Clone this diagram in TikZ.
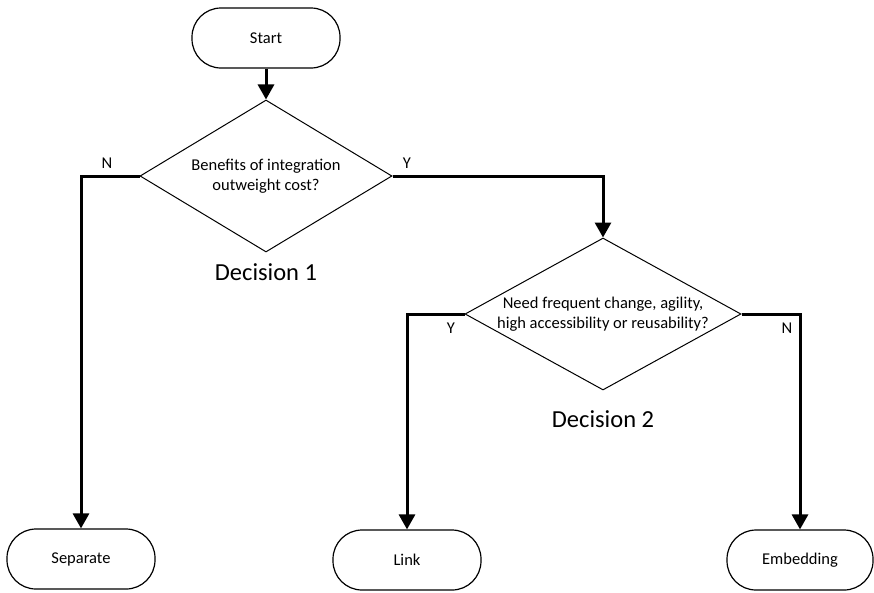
\documentclass[tikz,border=0pt]{standalone}
\usepackage{fontspec}
\setmainfont{Carlito}
\usetikzlibrary{shapes.geometric,arrows.meta}
\begin{document}
\begin{tikzpicture}[x=1pt,y=-1pt,
  terminal/.style={draw,line width=1.2pt,rounded corners=29pt,minimum width=148pt,minimum height=60pt,inner sep=0pt,font=\fontsize{16.5}{20}\selectfont},
  decision/.style={draw,line width=1pt,shape=diamond,inner sep=0pt,align=center,font=\fontsize{16.5}{20}\selectfont},
  caption/.style={font=\fontsize{24.5}{28}\selectfont},
  branch/.style={font=\fontsize{16.5}{20}\selectfont},
  flow/.style={line width=3pt,-{Triangle[length=15pt,width=16pt]}}]
  \useasboundingbox (0,0) rectangle (874,592);

  % terminals and decisions
  \node[terminal] (start) at (266,38) {Start};
  \node[decision,minimum width=252pt,minimum height=152pt,aspect=1.66] (d1) at (266,176)
    {Benefits of integration\\outweight cost?};
  \node[decision,minimum width=276pt,minimum height=152pt,aspect=1.82] (d2) at (603,314)
    {Need frequent change, agility,\\high accessibility or reusability?};
  \node[terminal] (sep) at (81,559) {Separate};
  \node[terminal] (link) at (407,560) {Link};
  \node[terminal,minimum width=146pt] (emb) at (800,560) {Embedding};

  % captions under the decisions
  \node[caption] (c1) at (266,272) {Decision 1};
  \node[caption] (c2) at (603,419) {Decision 2};

  % connectors
  \draw[flow] (start) -- (d1);
  \draw[flow] (d1.west) -| (sep.north);
  \draw[flow] (d1.east) -| (d2.north);
  \draw[flow] (d2.west) -| (link.north);
  \draw[flow] (d2.east) -| (emb.north);

  % branch labels
  \node[branch] (n1) at (107,163) {N};
  \node[branch] (y1) at (407,163) {Y};
  \node[branch] (y2) at (451,328) {Y};
  \node[branch] (n2) at (787,328) {N};
\end{tikzpicture}
\end{document}
